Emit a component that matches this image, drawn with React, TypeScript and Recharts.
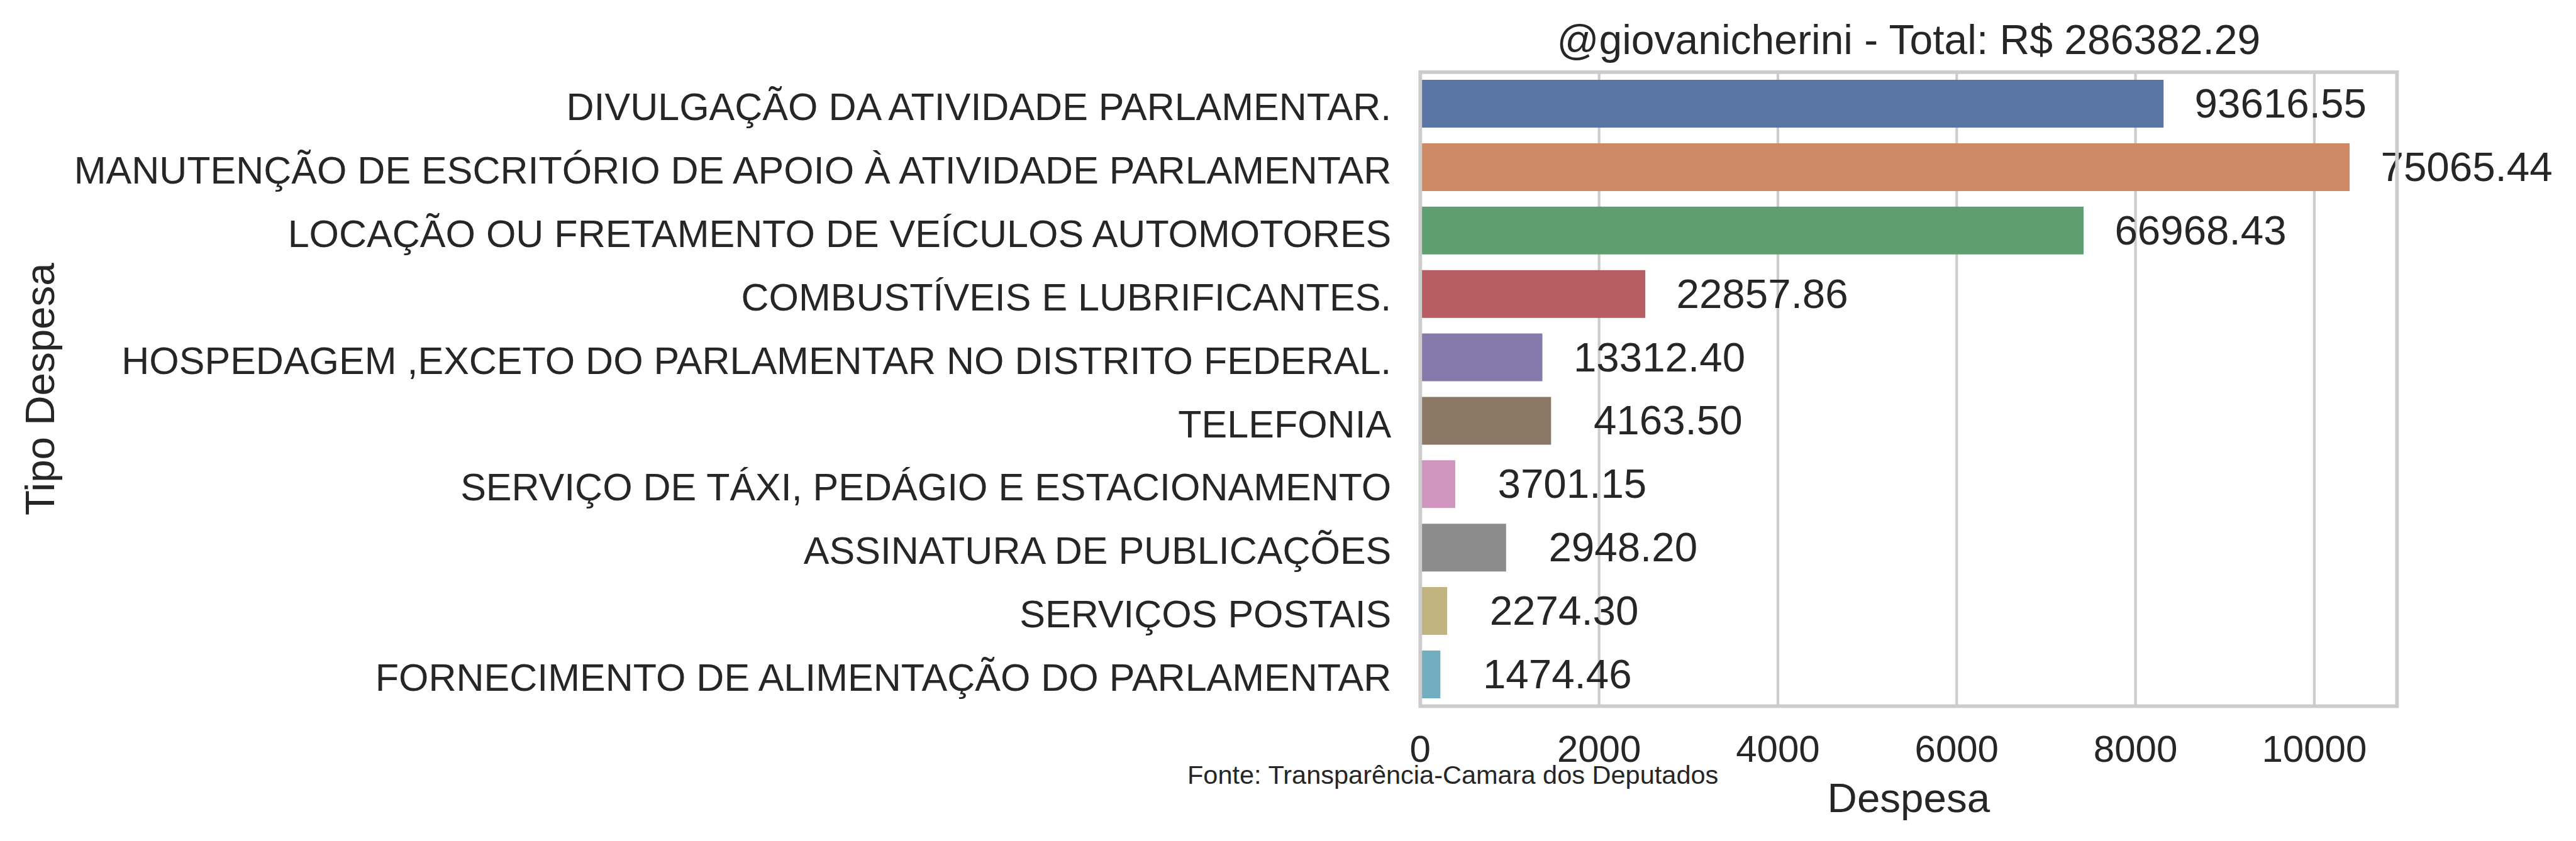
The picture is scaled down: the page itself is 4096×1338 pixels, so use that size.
import { BarChart, Bar, XAxis, YAxis, CartesianGrid, Cell, LabelList } from "recharts";

const categories = [
  "DIVULGAÇÃO DA ATIVIDADE PARLAMENTAR.",
  "MANUTENÇÃO DE ESCRITÓRIO DE APOIO À ATIVIDADE PARLAMENTAR",
  "LOCAÇÃO OU FRETAMENTO DE VEÍCULOS AUTOMOTORES",
  "COMBUSTÍVEIS E LUBRIFICANTES.",
  "HOSPEDAGEM ,EXCETO DO PARLAMENTAR NO DISTRITO FEDERAL.",
  "TELEFONIA",
  "SERVIÇO DE TÁXI, PEDÁGIO E ESTACIONAMENTO",
  "ASSINATURA DE PUBLICAÇÕES",
  "SERVIÇOS POSTAIS",
  "FORNECIMENTO DE ALIMENTAÇÃO DO PARLAMENTAR",
];

// bar lengths
const barValues = [8314, 10395, 7419, 2517, 1366, 1463, 391, 960, 301, 225];

// the annotated totals (not the bar lengths)
const totalLabels = [
  "93616.55",
  "75065.44",
  "66968.43",
  "22857.86",
  "13312.40",
  "4163.50",
  "3701.15",
  "2948.20",
  "2274.30",
  "1474.46",
];

const barColors = [
  "#5975a4",
  "#cc8963",
  "#5f9e6e",
  "#b55d60",
  "#857aab",
  "#8d7866",
  "#d095bf",
  "#8c8c8c",
  "#c1b37f",
  "#71aec0",
];

const xTicks = [0, 2000, 4000, 6000, 8000, 10000];

const data = categories.map((name, i) => ({
  name,
  value: barValues[i],
  total: totalLabels[i],
}));

const FONT = '"Liberation Sans", Arial, sans-serif';
const TEXT = "#262626";
const W = 4096;
const H = 1338;

// plot box
const LEFT = 2258.3;
const RIGHT = 3811.4;
const TOP = 114.8;
const BOTTOM = 1123.5;

const YTick = ({ x, y, payload }: any) => (
  <text x={x} y={y + 26} textAnchor="end" fontSize={61} fill={TEXT} fontFamily={FONT}>
    {payload.value}
  </text>
);

const XTick = ({ x, y, payload }: any) => (
  <text x={x} y={y + 88} textAnchor="middle" fontSize={60} fill={TEXT} fontFamily={FONT}>
    {payload.value}
  </text>
);

// total is centred a fixed distance past the end of its bar
const ValueLabel = ({ x, y, width, height, value }: any) => (
  <text
    x={x + width + 186}
    y={y + height / 2 + 22}
    textAnchor="middle"
    fontSize={65.5}
    fill={TEXT}
    fontFamily={FONT}
  >
    {value}
  </text>
);

export default function App() {
  return (
    <div style={{ position: "absolute", left: 0, top: 0, width: W, height: H, background: "#fff" }}>
      <BarChart
        width={W}
        height={H}
        data={data}
        layout="vertical"
        margin={{ top: TOP, right: W - RIGHT, bottom: 0, left: 0 }}
        barCategoryGap="12.2%"
      >
        <CartesianGrid horizontal={false} stroke="#cccccc" strokeWidth={4.2} />
        <XAxis
          type="number"
          domain={[0, 10925]}
          ticks={xTicks}
          interval={0}
          height={H - BOTTOM}
          axisLine={false}
          tickLine={false}
          tickSize={0}
          tickMargin={0}
          tick={<XTick />}
        />
        <YAxis
          type="category"
          dataKey="name"
          width={LEFT}
          interval={0}
          axisLine={false}
          tickLine={false}
          tickSize={0}
          tickMargin={46}
          tick={<YTick />}
        />
        <Bar dataKey="value" isAnimationActive={false}>
          {data.map((d, i) => (
            <Cell key={d.name} fill={barColors[i]} />
          ))}
          <LabelList dataKey="total" content={<ValueLabel />} />
        </Bar>
      </BarChart>
      <svg
        width={W}
        height={H}
        style={{ position: "absolute", left: 0, top: 0, pointerEvents: "none" }}
      >
        <rect
          x={LEFT}
          y={TOP}
          width={RIGHT - LEFT}
          height={BOTTOM - TOP}
          fill="none"
          stroke="#cccccc"
          strokeWidth={5.8}
        />
        <text
          x={(LEFT + RIGHT) / 2}
          y={86}
          textAnchor="middle"
          fontSize={66}
          fill={TEXT}
          fontFamily={FONT}
        >
          @giovanicherini - Total: R$ 286382.29
        </text>
        <text
          x={(LEFT + RIGHT) / 2}
          y={1292}
          textAnchor="middle"
          fontSize={65.5}
          fill={TEXT}
          fontFamily={FONT}
        >
          Despesa
        </text>
        <text
          transform={`translate(86, ${(TOP + BOTTOM) / 2}) rotate(-90)`}
          textAnchor="middle"
          fontSize={65.5}
          fill={TEXT}
          fontFamily={FONT}
        >
          Tipo Despesa
        </text>
        <text x={1888} y={1247} fontSize={41.5} fill={TEXT} fontFamily={FONT}>
          Fonte: Transparência-Camara dos Deputados
        </text>
      </svg>
    </div>
  );
}
